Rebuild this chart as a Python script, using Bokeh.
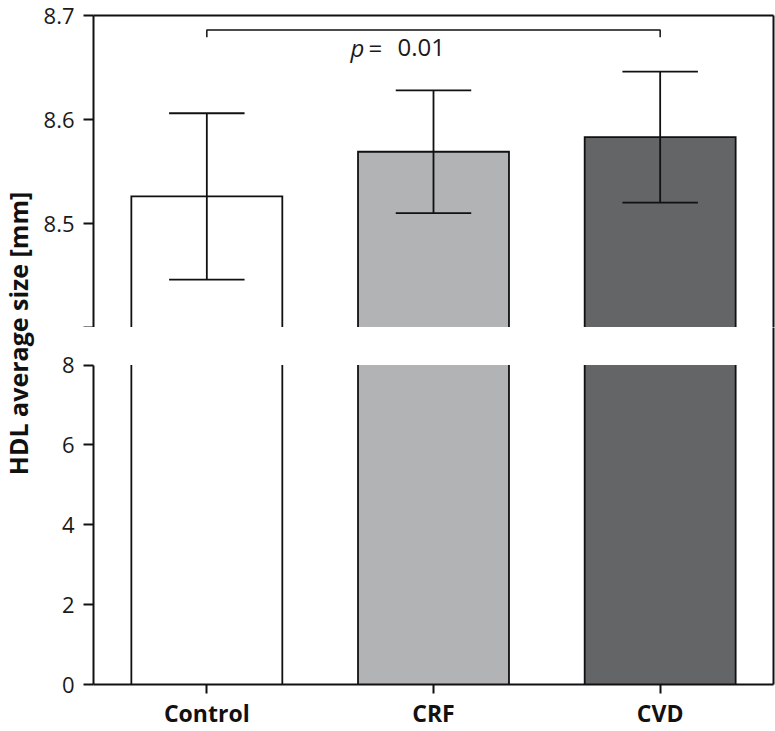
import numpy as np
from bokeh.plotting import figure
from bokeh.layouts import row, column
from bokeh.models import LinearAxis, FixedTicker, Range1d, Label
from bokeh.core.properties import value
from bokeh.embed import file_html
from bokeh.resources import INLINE

# ---------------- data ----------------
categories = ["Control", "CRF", "CVD"]
means = [8.526, 8.569, 8.583]
sd = [0.080, 0.059, 0.063]
fill_colors = ["#ffffff", "#b1b3b5", "#646567"]
top_ticks = [8.4, 8.5, 8.6, 8.7]
bottom_ticks = [0, 2, 4, 6, 8]
break_low = 8.0      # top of the lower panel
break_high = 8.4     # bottom of the upper panel
top_max = 8.7
p_label = "p"
p_eq = "="
p_value = "0.01"
bracket_groups = ("Control", "CVD")
bracket_y = 8.686
bracket_tick_y = 8.679
p_text_x = 1.134
p_text_y = 8.669
y_label = "HDL average size [mm]"

# ---------------- layout / style ----------------
FONT = "Open Sans"
LEFT_W = 36
MB_LEFT = 57
FRAME_W = 680
MB_RIGHT = 2
FIG_W = MB_LEFT + FRAME_W + MB_RIGHT
TOP_BORDER = 15
TOP_PANEL_PX = 312
GAP_PX = 38
BOT_PANEL_PX = 323
BOT_BORDER = 43
BAR_W = 0.666
CAP_W = 0.333
LW = 1.8
INK = "#111111"

n = len(categories)
xs = np.arange(n) + 0.5
left = xs - BAR_W / 2
right = xs + BAR_W / 2
means_a = np.array(means)
sd_a = np.array(sd)
upper = means_a + sd_a
lower = means_a - sd_a

bot_px_per_unit = BOT_PANEL_PX / break_low
bot_end = break_low + GAP_PX / bot_px_per_unit

top_h = TOP_BORDER + TOP_PANEL_PX
bot_h = GAP_PX + BOT_PANEL_PX + BOT_BORDER
total_h = top_h + bot_h


def frame_axis():
    ax = LinearAxis(ticker=FixedTicker(ticks=[]))
    ax.major_label_text_font_size = "0px"
    ax.major_tick_out = 0
    ax.major_tick_in = 0
    ax.minor_tick_out = 0
    ax.minor_tick_in = 0
    ax.major_label_standoff = 0
    ax.axis_line_width = 2
    ax.axis_line_color = INK
    return ax


def style_y(ax, ticks):
    ax.ticker = FixedTicker(ticks=ticks)
    ax.major_tick_out = 10
    ax.major_tick_in = 0
    ax.minor_tick_out = 0
    ax.minor_tick_in = 0
    ax.axis_line_width = 2
    ax.major_tick_line_width = 2
    ax.axis_line_color = INK
    ax.major_tick_line_color = INK
    ax.major_label_text_font = FONT
    ax.major_label_text_font_size = "22px"
    ax.major_label_text_color = "#1a1a1a"
    ax.major_label_standoff = 9


# ---------------- upper panel ----------------
pt = figure(width=FIG_W, height=top_h, x_range=Range1d(0, n),
            y_range=Range1d(break_high, top_max),
            output_backend="svg", toolbar_location=None,
            x_axis_location=None, min_border_left=MB_LEFT,
            min_border_right=MB_RIGHT, min_border_top=TOP_BORDER,
            min_border_bottom=0, outline_line_color=None)
pt.grid.visible = False
style_y(pt.yaxis[0], top_ticks)
pt.yaxis[0].major_label_overrides = {break_high: ""}
pt.add_layout(frame_axis(), "above")
pt.add_layout(frame_axis(), "right")

pt.vbar(x=xs, top=means, bottom=break_high, width=BAR_W,
        fill_color=fill_colors, line_color=None)
pt.multi_line(xs=[[l, l, r, r] for l, r in zip(left, right)],
              ys=[[break_high, m, m, break_high] for m in means],
              line_color=INK, line_width=LW, line_join="miter")
# error bars
pt.segment(x0=xs, y0=lower, x1=xs, y1=upper, line_color=INK, line_width=LW)
pt.segment(x0=xs - CAP_W / 2, y0=upper, x1=xs + CAP_W / 2, y1=upper,
           line_color=INK, line_width=LW)
pt.segment(x0=xs - CAP_W / 2, y0=lower, x1=xs + CAP_W / 2, y1=lower,
           line_color=INK, line_width=LW)
# significance bracket
bx0 = xs[categories.index(bracket_groups[0])]
bx1 = xs[categories.index(bracket_groups[1])]
pt.multi_line(xs=[[bx0, bx0, bx1, bx1]],
              ys=[[bracket_tick_y, bracket_y, bracket_y, bracket_tick_y]],
              line_color=INK, line_width=1.5)
for txt, off, style in ((p_label, 0, "italic"), (p_eq, 18, "normal"),
                        (p_value, 47, "normal")):
    pt.text(x=[p_text_x], y=[p_text_y], text=[txt], text_font=value(FONT),
            text_font_style=style, text_font_size="24px", x_offset=off,
            text_baseline="middle", text_align="left", text_color="#1a1a1a")

# ---------------- lower panel (frame also spans the break gap) ----------------
pb = figure(width=FIG_W, height=bot_h, x_range=pt.x_range,
            y_range=Range1d(0, bot_end),
            output_backend="svg", toolbar_location=None,
            min_border_left=MB_LEFT, min_border_right=MB_RIGHT,
            min_border_top=0, min_border_bottom=BOT_BORDER,
            outline_line_color=None)
pb.grid.visible = False
style_y(pb.yaxis[0], bottom_ticks)
pb.yaxis[0].bounds = (0, break_low)
pb.add_layout(frame_axis(), "right")

xa = pb.xaxis[0]
xa.ticker = FixedTicker(ticks=list(xs))
xa.major_label_overrides = {float(x): c for x, c in zip(xs, categories)}
xa.major_tick_out = 9
xa.major_tick_in = 0
xa.minor_tick_out = 0
xa.minor_tick_in = 0
xa.axis_line_width = 2
xa.major_tick_line_width = 2
xa.axis_line_color = INK
xa.major_tick_line_color = INK
xa.major_label_text_font = FONT
xa.major_label_text_font_style = "bold"
xa.major_label_text_font_size = "23px"
xa.major_label_text_color = INK
xa.major_label_standoff = 3

bar_tops_low = np.minimum(means_a, break_low)
pb.vbar(x=xs, top=bar_tops_low, bottom=0, width=BAR_W, fill_color=fill_colors,
        line_color=None)
pb.segment(x0=left, y0=0, x1=left, y1=bar_tops_low, line_color=INK, line_width=LW)
pb.segment(x0=right, y0=0, x1=right, y1=bar_tops_low, line_color=INK, line_width=LW)

# ---------------- y-axis title ----------------
pl = figure(width=LEFT_W, height=total_h, x_range=Range1d(0, 1),
            y_range=Range1d(0, 1), output_backend="svg",
            toolbar_location=None, x_axis_type=None, y_axis_type=None,
            min_border=0, outline_line_color=None)
pl.grid.visible = False
pl.add_layout(Label(x=0.48, y=0.5445, text=y_label, angle=np.pi / 2,
                    text_align="center", text_baseline="middle",
                    text_font=FONT, text_font_style="bold",
                    text_font_size="25px", text_color=INK))

layout = row(pl, column(pt, pb))
open("out.html", "w").write(file_html(layout, INLINE))
